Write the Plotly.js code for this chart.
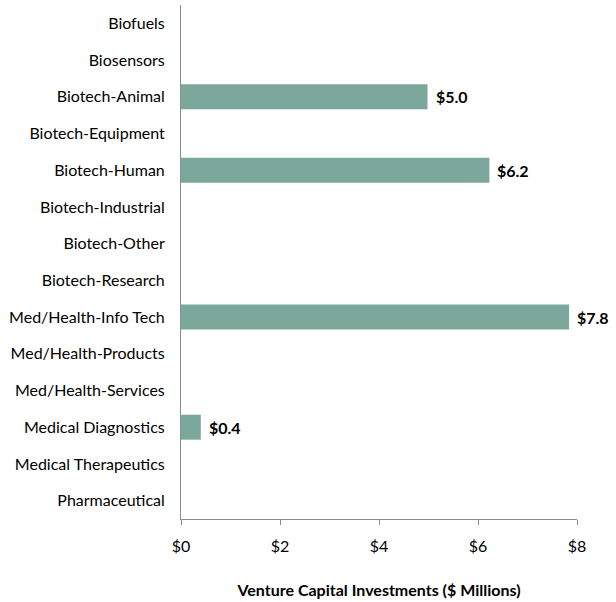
<!DOCTYPE html>
<html>
<head>
<meta charset="utf-8">
<script src="https://cdn.plot.ly/plotly-3.0.1.min.js"></script>
<style>html,body{margin:0;padding:0;background:#fff;}#chart{width:616px;height:602px;}</style>
</head>
<body>
<div id="chart"></div>
<script>
const categories = ["Biofuels","Biosensors","Biotech-Animal","Biotech-Equipment","Biotech-Human","Biotech-Industrial","Biotech-Other","Biotech-Research","Med/Health-Info Tech","Med/Health-Products","Med/Health-Services","Medical Diagnostics","Medical Therapeutics","Pharmaceutical"];
const investments = [null, null, 4.98, null, 6.23, null, null, null, 7.84, null, null, 0.40, null, null];
const xTickVals = [0, 2, 4, 6, 8];
const xTickText = ["$0", "$2", "$4", "$6", "$8"];

const FONT = "Lato, 'Open Sans', sans-serif";

const annotations = [];
investments.forEach((v, i) => {
  if (v == null) return;
  annotations.push({
    x: v, y: categories[i], xref: "x", yref: "y",
    text: "<b>$" + v.toFixed(1) + "</b>",
    showarrow: false, xanchor: "left", yanchor: "middle", xshift: 6,
    font: {family: FONT, size: 16, color: "#000"}
  });
});

Plotly.newPlot("chart", [{
  type: "bar",
  orientation: "h",
  y: categories,
  x: investments,
  marker: {color: "#7BA89B"},
  hoverinfo: "skip"
}], {
  width: 616,
  height: 602,
  margin: {l: 181, r: 39, t: 5, b: 83},
  paper_bgcolor: "#fff",
  plot_bgcolor: "#fff",
  showlegend: false,
  bargap: 0.32,
  font: {family: FONT, size: 16, color: "#000"},
  annotations: annotations,
  xaxis: {
    range: [0, 8],
    tickvals: xTickVals,
    ticktext: xTickText,
    showgrid: false,
    zeroline: false,
    showline: true,
    linecolor: "#8c8c8c",
    linewidth: 1,
    ticks: "outside",
    ticklen: 5,
    tickcolor: "#8c8c8c",
    ticklabelstandoff: 8,
    tickfont: {family: FONT, size: 16, color: "#000"},
    title: {text: "<b>Venture Capital Investments ($ Millions)</b>", font: {family: FONT, size: 16, color: "#000"}, standoff: 30}
  },
  yaxis: {
    type: "category",
    autorange: false,
    range: [13.5, -0.5],
    showgrid: false,
    zeroline: false,
    showline: true,
    linecolor: "#8c8c8c",
    linewidth: 1,
    ticks: "",
    ticklabelstandoff: 12,
    tickfont: {family: FONT, size: 16, color: "#000"}
  }
}, {displayModeBar: false, staticPlot: true});
</script>
</body>
</html>
